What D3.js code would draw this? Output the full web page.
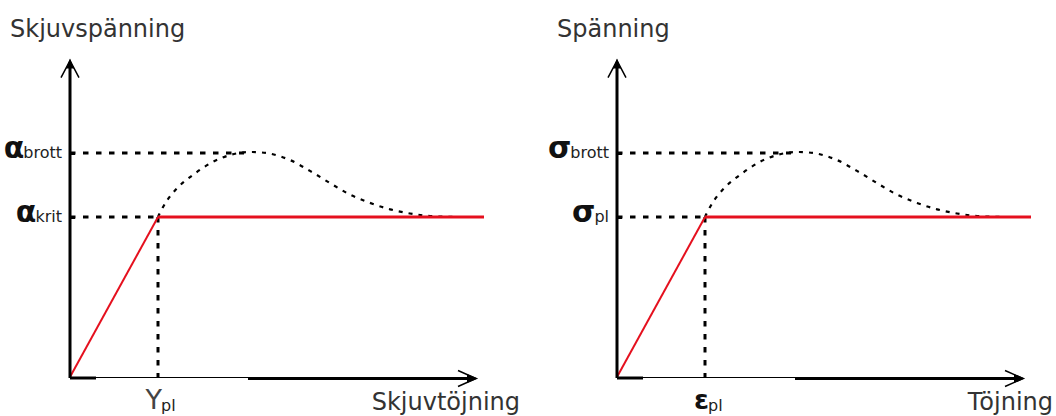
<!DOCTYPE html>
<html><head><meta charset="utf-8">
<script src="https://cdn.jsdelivr.net/npm/d3@7"></script>
<style>body{margin:0;background:#fff}svg{display:block}</style></head>
<body>
<svg id="c" width="1056" height="416"></svg>
<script>
// ---- data ----
const axisTitlesY = ["Skjuvspänning", "Spänning"];
const axisTitlesX = ["Skjuvtöjning", "Töjning"];
const tickSymbols = [["α", "α"], ["σ", "σ"]];
const tickSubs = [["krit", "brott"], ["pl", "brott"]];
const stressTicks = [50, 70];
const strainSymbols = ["Y", "ε"];
const strainSubs = ["pl", "pl"];
const yieldStrain = 22;
const yieldStress = 50;
const peakStress = 70;
const curveStrain = [22, 24, 27, 31, 36, 41, 45, 50, 55, 60, 65, 70, 75, 80, 85, 90, 97];
const curveStress = [50, 54.7, 59.3, 63.4, 67.4, 69.7, 70.3, 69.8, 67.8, 64.4, 60.6, 57, 54.4, 52.4, 51.1, 50.3, 50];
const redStrain = [0, 22, 103.5];
const redStress = [0, 50, 50];

// ---- layout ----
const svg = d3.select("#c");
const panelX = [70, 617];
const titleXEnd = [520, 1053];
const FONT = "DejaVu Sans, Verdana, sans-serif";

panelX.forEach((ox, p) => {
  const x = d3.scaleLinear().domain([0, 100]).range([ox, ox + 400]);
  const y = d3.scaleLinear().domain([0, 100]).range([377, 57]);
  const g = svg.append("g");

  // dashed guides
  const dash = "5.5,7.5";
  g.append("line").attr("x1", x(0)).attr("x2", x(43.5)).attr("y1", y(peakStress)).attr("y2", y(peakStress))
    .attr("stroke", "#000").attr("stroke-width", 3).attr("stroke-dasharray", dash);
  g.append("line").attr("x1", x(0)).attr("x2", x(yieldStrain)).attr("y1", y(yieldStress)).attr("y2", y(yieldStress))
    .attr("stroke", "#000").attr("stroke-width", 3).attr("stroke-dasharray", dash);
  g.append("line").attr("x1", x(yieldStrain)).attr("x2", x(yieldStrain)).attr("y1", y(yieldStress)).attr("y2", y(0))
    .attr("stroke", "#000").attr("stroke-width", 3).attr("stroke-dasharray", dash);

  // dashed curve
  const pts = curveStrain.map((s, i) => [s, curveStress[i]]);
  g.append("path").datum(pts)
    .attr("d", d3.line().x(d => x(d[0])).y(d => y(d[1])).curve(d3.curveCatmullRom.alpha(0.5)))
    .attr("fill", "none").attr("stroke", "#000").attr("stroke-width", 2.2).attr("stroke-dasharray", "4,6");

  // red elastic-plastic line
  const rp = redStrain.map((s, i) => [s, redStress[i]]);
  g.append("path").datum(rp.slice(0, 2))
    .attr("d", d3.line().x(d => x(d[0])).y(d => y(d[1])))
    .attr("fill", "none").attr("stroke", "#e5101e").attr("stroke-width", 2);
  g.append("path").datum(rp.slice(1))
    .attr("d", d3.line().x(d => x(d[0])).y(d => y(d[1])))
    .attr("fill", "none").attr("stroke", "#e5101e").attr("stroke-width", 3);

  // y axis line + arrow
  const yTip = y(99.5);
  g.append("line").attr("x1", x(0)).attr("x2", x(0)).attr("y1", y(0) + 1).attr("y2", yTip + 4)
    .attr("stroke", "#000").attr("stroke-width", 3);
  g.append("path").attr("d", `M${x(0)},${yTip} L${x(0) - 4},${yTip + 10} L${x(0) + 4},${yTip + 10} Z`).attr("fill", "#000");
  g.append("path").attr("d", `M${x(0) - 9},${yTip + 19} L${x(0)},${yTip + 2} L${x(0) + 9},${yTip + 19}`)
    .attr("fill", "none").attr("stroke", "#000").attr("stroke-width", 1.5);

  // x axis segments + arrow
  const xTip = x(102);
  g.append("line").attr("x1", x(0)).attr("x2", x(6.5)).attr("y1", y(0) + 1).attr("y2", y(0) + 1)
    .attr("stroke", "#000").attr("stroke-width", 3);
  g.append("line").attr("x1", x(6.5)).attr("x2", x(44.5)).attr("y1", y(0) + 0.5).attr("y2", y(0) + 0.5)
    .attr("stroke", "#000").attr("stroke-width", 1);
  g.append("line").attr("x1", x(44.5)).attr("x2", xTip - 4).attr("y1", y(0) + 1.5).attr("y2", y(0) + 1.5)
    .attr("stroke", "#000").attr("stroke-width", 3);
  const ay = y(0) + 1.5;
  g.append("path").attr("d", `M${xTip},${ay} L${xTip - 11},${ay - 4.5} L${xTip - 11},${ay + 4.5} Z`).attr("fill", "#000");
  g.append("path").attr("d", `M${xTip - 20},${ay - 8} L${xTip - 2},${ay} L${xTip - 20},${ay + 8}`)
    .attr("fill", "none").attr("stroke", "#000").attr("stroke-width", 1.5);

  // y ticks via axis
  const ax = g.append("g").attr("transform", `translate(${x(0)},0)`)
    .call(d3.axisLeft(y).tickValues(stressTicks).tickSize(-5).tickFormat(""));
  ax.select(".domain").remove();
  ax.selectAll(".tick line").attr("stroke", "#000").attr("stroke-width", 3);

  // y tick labels
  stressTicks.forEach((v, i) => {
    const sub = g.append("text").attr("x", x(0) - 8).attr("y", y(v) + 5)
      .attr("text-anchor", "end").attr("font-family", FONT).attr("font-size", 16).attr("fill", "#222")
      .text(tickSubs[p][i]);
    const w = sub.node().getComputedTextLength();
    g.append("text").attr("x", x(0) - 8 - w + 1).attr("y", y(v) + 5)
      .attr("text-anchor", "end").attr("font-family", FONT).attr("font-size", 30).attr("font-weight", "bold").attr("fill", "#111")
      .text(tickSymbols[p][i]);
  });

  // x tick label (yield strain)
  g.append("text").attr("x", x(yieldStrain) + 4).attr("y", 409)
    .attr("text-anchor", "end").attr("font-family", FONT).attr("font-size", 27)
    .attr("font-weight", p === 1 ? "bold" : "normal").attr("fill", p === 1 ? "#111" : "#444")
    .text(strainSymbols[p]);
  g.append("text").attr("x", x(yieldStrain) + 3).attr("y", 411)
    .attr("font-family", FONT).attr("font-size", 16).attr("fill", "#222")
    .text(strainSubs[p]);

  // axis titles
  g.append("text").attr("x", x(0) - 60).attr("y", 37)
    .attr("font-family", FONT).attr("font-size", 24).attr("fill", "#333")
    .text(axisTitlesY[p]);
  g.append("text").attr("x", titleXEnd[p]).attr("y", 410).attr("text-anchor", "end")
    .attr("font-family", FONT).attr("font-size", 24).attr("fill", "#333")
    .text(axisTitlesX[p]);
});
</script>
</body></html>
